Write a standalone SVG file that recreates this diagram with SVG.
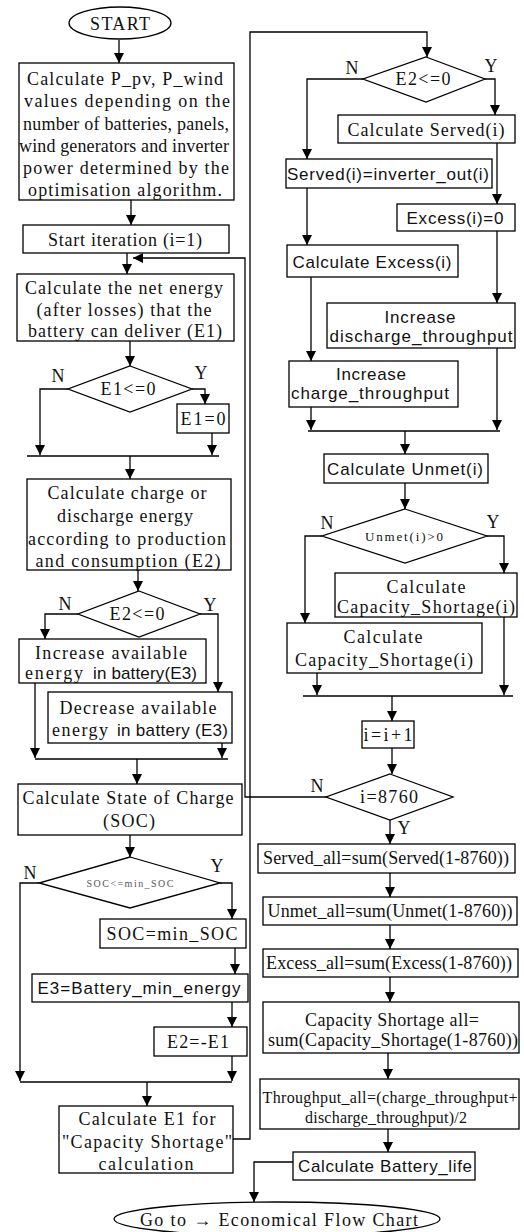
<svg xmlns="http://www.w3.org/2000/svg" width="524" height="1232" viewBox="0 0 524 1232">
<style>
.box{fill:#fff;stroke:#000;stroke-width:1.3}
.ln{fill:none;stroke:#000;stroke-width:1.3}
.ar{marker-end:url(#ah)}
.s{font-family:"Liberation Serif","Times New Roman",serif;font-size:18px;text-anchor:middle;dominant-baseline:central;fill:#111}
.a{font-family:"Liberation Sans",Arial,sans-serif;font-size:17px;text-anchor:middle;dominant-baseline:central;fill:#111}
.sl{font-family:"Liberation Serif","Times New Roman",serif;font-size:18px;text-anchor:start;dominant-baseline:central;fill:#111}
.al{font-family:"Liberation Sans",Arial,sans-serif;font-size:17px;text-anchor:start;dominant-baseline:central;fill:#111}
.lbl{font-family:"Liberation Serif","Times New Roman",serif;font-size:18px;text-anchor:middle;dominant-baseline:central;fill:#111}
</style>
<defs>
<marker id="ah" viewBox="0 0 10 10" refX="10" refY="5" markerWidth="10" markerHeight="10" markerUnits="userSpaceOnUse" orient="auto">
<path d="M0,0 L10,5 L0,10 z" fill="#000"/>
</marker>
</defs>
<rect width="524" height="1232" fill="#fff"/>

<g id="connectors">
<path class="ln ar" d="M119,40 V63"/>
<path class="ln ar" d="M131,200 V225"/>
<path class="ln ar" d="M127,253 V274"/>
<path class="ln ar" d="M327,797 H245 V258 H133"/>
<path class="ln ar" d="M130,341 V366"/>
<path class="ln ar" d="M68,389 H40 V455"/>
<path class="ln ar" d="M192,389 H205 V404"/>
<path class="ln ar" d="M212,433 V455"/>
<path class="ln" d="M27,456 H219"/>
<path class="ln ar" d="M130,456 V479"/>
<path class="ln ar" d="M138,570 V591"/>
<path class="ln ar" d="M78,614 H45 V639"/>
<path class="ln ar" d="M200,614 H218 V692"/>
<path class="ln ar" d="M35,683 V758"/>
<path class="ln ar" d="M222,743 V758"/>
<path class="ln" d="M35,759 H228"/>
<path class="ln ar" d="M137,759 V784"/>
<path class="ln ar" d="M130,835 V857"/>
<path class="ln ar" d="M39,883 H20 V1081"/>
<path class="ln ar" d="M220,883 H232 V919"/>
<path class="ln ar" d="M235,948 V974"/>
<path class="ln ar" d="M232,1002 V1027"/>
<path class="ln ar" d="M232,1056 V1081"/>
<path class="ln" d="M20,1082 H232"/>
<path class="ln ar" d="M147,1082 V1106"/>
<path class="ln ar" d="M233,1139 H250 V32 H427 V57"/>
<path class="ln ar" d="M363,79 H307 V159"/>
<path class="ln ar" d="M485,79 H495 V115"/>
<path class="ln ar" d="M497,143 V204"/>
<path class="ln ar" d="M307,188 V245"/>
<path class="ln ar" d="M497,231 V303"/>
<path class="ln ar" d="M311,277 V361"/>
<path class="ln ar" d="M311,407 V430"/>
<path class="ln ar" d="M497,348 V430"/>
<path class="ln" d="M308,431 H500"/>
<path class="ln ar" d="M405,431 V454"/>
<path class="ln ar" d="M405,483 V509"/>
<path class="ln ar" d="M322,536 H305 V623"/>
<path class="ln ar" d="M487,536 H504 V573"/>
<path class="ln ar" d="M317,673 V695"/>
<path class="ln ar" d="M504,617 V695"/>
<path class="ln" d="M303,696 H513"/>
<path class="ln ar" d="M392,696 V721"/>
<path class="ln ar" d="M392,748 V774"/>
<path class="ln ar" d="M390,820 V844"/>
<path class="ln ar" d="M390,873 V897"/>
<path class="ln ar" d="M390,925 V949"/>
<path class="ln ar" d="M390,977 V1002"/>
<path class="ln ar" d="M388,1053 V1079"/>
<path class="ln ar" d="M388,1129 V1152"/>
<path class="ln ar" d="M293,1162 H254 V1202"/>
<text class="lbl" x="58" y="376">N</text>
<text class="lbl" x="201" y="373">Y</text>
<text class="lbl" x="65" y="604">N</text>
<text class="lbl" x="210" y="605">Y</text>
<text class="lbl" x="30" y="873">N</text>
<text class="lbl" x="217" y="866">Y</text>
<text class="lbl" x="352" y="68">N</text>
<text class="lbl" x="491" y="66">Y</text>
<text class="lbl" x="327" y="523">N</text>
<text class="lbl" x="493" y="522">Y</text>
<text class="lbl" x="317" y="786">N</text>
<text class="lbl" x="404" y="828">Y</text>
</g>

<g id="start">
<ellipse class="box" cx="120" cy="23" rx="51" ry="16"/>
<text class="s" x="120" y="24" textLength="60">START</text>
</g>
<g id="n1">
<rect class="box" x="19" y="63" width="215" height="137"/>
<text class="s" x="125" y="79" textLength="196">Calculate P_pv, P_wind</text>
<text class="s" x="127" y="101" textLength="206">values depending on the</text>
<text class="s" x="126" y="124" textLength="206">number of batteries, panels,</text>
<text class="s" x="124" y="146" textLength="210">wind generators and inverter</text>
<text class="s" x="126" y="168" textLength="206">power determined by the</text>
<text class="s" x="125" y="190" textLength="194">optimisation algorithm.</text>
</g>
<g id="n2">
<rect class="box" x="23" y="225" width="206" height="28"/>
<text class="s" x="125" y="240" textLength="154">Start iteration (i=1)</text>
</g>
<g id="n3">
<rect class="box" x="17" y="274" width="217" height="67"/>
<text class="s" x="124" y="288" textLength="198">Calculate the net energy</text>
<text class="s" x="124" y="310" textLength="175">(after losses)  that the</text>
<text class="s" x="125" y="331" textLength="194">battery can deliver (E1)</text>
</g>
<g id="d1">
<polygon class="box" points="130,366 192,389 130,412 68,389"/>
<text class="s" x="128" y="389" textLength="55">E1&lt;=0</text>
</g>
<g id="n4">
<rect class="box" x="177" y="404" width="52" height="29"/>
<text class="s" x="203" y="419" textLength="45">E1=0</text>
</g>
<g id="n5">
<rect class="box" x="27" y="479" width="204" height="91"/>
<text class="s" x="127" y="493" textLength="159">Calculate charge or</text>
<text class="s" x="125" y="516" textLength="136">discharge energy</text>
<text class="s" x="127" y="539" textLength="198">according to production</text>
<text class="s" x="128" y="561" textLength="185">and consumption (E2)</text>
</g>
<g id="d2">
<polygon class="box" points="139,591 200,614 139,637 78,614"/>
<text class="s" x="137" y="614" textLength="55">E2&lt;=0</text>
</g>
<g id="n6">
<rect class="box" x="19" y="639" width="187" height="44"/>
<text class="s" x="111" y="653" textLength="152">Increase available</text>
<text class="sl" x="25" y="673" textLength="58">energy</text>
<text class="al" x="93" y="673" textLength="104">in battery(E3)</text>
</g>
<g id="n7">
<rect class="box" x="48" y="692" width="184" height="51"/>
<text class="s" x="138" y="708" textLength="157">Decrease available</text>
<text class="sl" x="52" y="730" textLength="56">energy</text>
<text class="al" x="117" y="730" textLength="111">in battery (E3)</text>
</g>
<g id="n8">
<rect class="box" x="18" y="784" width="224" height="51"/>
<text class="s" x="128" y="798" textLength="211">Calculate State of Charge</text>
<text class="s" x="129" y="821" textLength="52">(SOC)</text>
</g>
<g id="d3">
<polygon class="box" points="130,857 220,883 130,908 39,883"/>
<text class="s" x="130" y="883" style="font-size:10px;fill:#555" textLength="87">SOC&lt;=min_SOC</text>
</g>
<g id="n9">
<rect class="box" x="100" y="919" width="146" height="29"/>
<text class="s" x="172" y="934" textLength="131">SOC=min_SOC</text>
</g>
<g id="n10">
<rect class="box" x="32" y="974" width="216" height="28"/>
<text class="a" x="139" y="988" textLength="203">E3=Battery_min_energy</text>
</g>
<g id="n11">
<rect class="box" x="154" y="1027" width="93" height="29"/>
<text class="s" x="198" y="1042" textLength="62">E2=-E1</text>
</g>
<g id="n12">
<rect class="box" x="59" y="1106" width="174" height="67"/>
<text class="s" x="147" y="1119" textLength="137">Calculate E1 for</text>
<text class="s" x="147" y="1142" textLength="170">"Capacity Shortage"</text>
<text class="s" x="146" y="1164" textLength="95">calculation</text>
</g>
<g id="d4">
<polygon class="box" points="426,57 485,79 426,102 363,79"/>
<text class="s" x="423" y="79" textLength="55">E2&lt;=0</text>
</g>
<g id="n13">
<rect class="box" x="338" y="115" width="177" height="28"/>
<text class="s" x="426" y="130" textLength="157">Calculate Served(i)</text>
</g>
<g id="n14">
<rect class="box" x="286" y="159" width="206" height="29"/>
<text class="a" x="388" y="174" textLength="202">Served(i)=inverter_out(i)</text>
</g>
<g id="n15">
<rect class="box" x="397" y="204" width="118" height="27"/>
<text class="a" x="455" y="218" textLength="97">Excess(i)=0</text>
</g>
<g id="n16">
<rect class="box" x="287" y="245" width="171" height="32"/>
<text class="a" x="372" y="262" textLength="159">Calculate Excess(i)</text>
</g>
<g id="n17">
<rect class="box" x="327" y="303" width="188" height="45"/>
<text class="a" x="420" y="317" textLength="71">Increase</text>
<text class="a" x="421" y="336" textLength="183">discharge_throughput</text>
</g>
<g id="n18">
<rect class="box" x="289" y="361" width="169" height="46"/>
<text class="a" x="371" y="374" textLength="70">Increase</text>
<text class="a" x="370" y="393" textLength="158">charge_throughput</text>
</g>
<g id="n19">
<rect class="box" x="324" y="454" width="164" height="29"/>
<text class="a" x="405" y="469" textLength="156">Calculate Unmet(i)</text>
</g>
<g id="d5">
<polygon class="box" points="405,509 487,536 405,563 322,536"/>
<text class="s" x="404" y="536" style="font-size:13px" textLength="78">Unmet(i)&gt;0</text>
</g>
<g id="n20">
<rect class="box" x="335" y="573" width="182" height="44"/>
<text class="s" x="426" y="587" textLength="79">Calculate</text>
<text class="s" x="426" y="607" textLength="178">Capacity_Shortage(i)</text>
</g>
<g id="n21">
<rect class="box" x="287" y="623" width="195" height="50"/>
<text class="s" x="383" y="637" textLength="79">Calculate</text>
<text class="s" x="384" y="660" textLength="178">Capacity_Shortage(i)</text>
</g>
<g id="n22">
<rect class="box" x="362" y="721" width="52" height="27"/>
<text class="s" x="388" y="735" textLength="49">i=i+1</text>
</g>
<g id="d6">
<polygon class="box" points="390,774 453,797 390,820 326,797"/>
<text class="s" x="389" y="797" textLength="58">i=8760</text>
</g>
<g id="n23">
<rect class="box" x="258" y="844" width="257" height="29"/>
<text class="s" x="386" y="858" textLength="246">Served_all=sum(Served(1-8760))</text>
</g>
<g id="n24">
<rect class="box" x="263" y="897" width="254" height="28"/>
<text class="s" x="390" y="911" textLength="245">Unmet_all=sum(Unmet(1-8760))</text>
</g>
<g id="n25">
<rect class="box" x="263" y="949" width="255" height="28"/>
<text class="s" x="389" y="963" textLength="246">Excess_all=sum(Excess(1-8760))</text>
</g>
<g id="n26">
<rect class="box" x="263" y="1002" width="256" height="51"/>
<text class="s" x="392" y="1020" textLength="174">Capacity  Shortage  all=</text>
<text class="s" x="393" y="1040" textLength="250">sum(Capacity_Shortage(1-8760))</text>
</g>
<g id="n27">
<rect class="box" x="260" y="1079" width="259" height="50"/>
<text class="s" x="390" y="1097" style="font-size:16px" textLength="255">Throughput_all=(charge_throughput+</text>
<text class="s" x="386" y="1117" style="font-size:16px" textLength="162">discharge_throughput)/2</text>
</g>
<g id="n28">
<rect class="box" x="293" y="1152" width="182" height="28"/>
<text class="a" x="385" y="1166" textLength="174">Calculate Battery_life</text>
</g>
<g id="end">
<ellipse class="box" cx="277" cy="1219" rx="163" ry="17"/>
<text class="s" x="279" y="1220" textLength="278">Go to → Economical Flow Chart</text>
</g>
</svg>
